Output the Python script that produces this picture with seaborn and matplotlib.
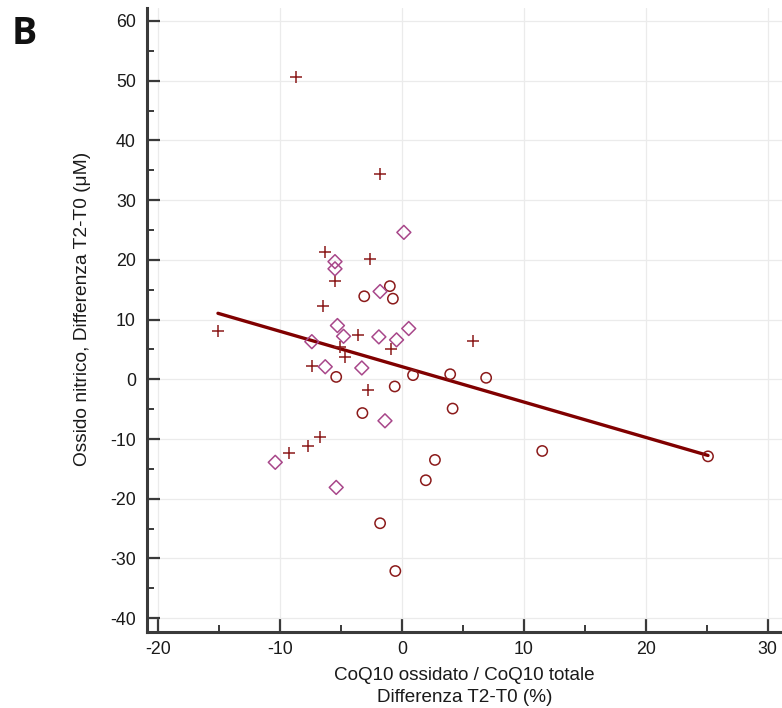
import numpy as np
import pandas as pd
import matplotlib
matplotlib.use("Agg")
import matplotlib.pyplot as plt
from matplotlib.ticker import MultipleLocator
import seaborn as sns

# Change in oxidised / total CoQ10 (%) vs change in nitric oxide (uM), by group
cross_x = [-8.7, -1.8, -6.3, -2.6, -5.5, -6.5, -15.1, -3.6, 5.8, -5.1, -0.9, -4.7,
           -7.4, -2.8, -6.7, -7.7, -9.3]
cross_y = [50.6, 34.4, 21.3, 20.1, 16.5, 12.3, 8.1, 7.5, 6.45, 5.4, 5.0, 3.7,
           2.2, -1.8, -9.7, -11.2, -12.4]

diamond_x = [0.15, -5.5, -5.5, -1.8, -5.3, 0.55, -4.8, -1.9, -0.45, -7.4, -6.3, -3.3,
             -1.4, -10.4, -5.4]
diamond_y = [24.6, 19.7, 18.5, 14.7, 9.0, 8.5, 7.2, 7.1, 6.6, 6.3, 2.1, 1.9,
             -6.95, -13.9, -18.1]

circle_x = [-1.0, -3.1, -0.75, -5.4, 0.9, 3.95, 6.9, -0.6, -3.25, 4.15, 2.7, 1.95,
            11.5, 25.1, -1.8, -0.55]
circle_y = [15.6, 13.9, 13.5, 0.4, 0.7, 0.85, 0.25, -1.2, -5.65, -4.9, -13.5, -16.9,
            -12.0, -12.9, -24.1, -32.1]

# Regression line endpoints (over the observed x range)
fit_x = [-15.1, 25.1]
fit_y = [11.05, -12.75]

x_ticks = [-20, -10, 0, 10, 20, 30]
y_ticks = [-40, -30, -20, -10, 0, 10, 20, 30, 40, 50, 60]

sns.set_theme(style="white")
plt.rcParams["font.family"] = ["Liberation Sans", "DejaVu Sans"]

fig = plt.figure(figsize=(7.82, 7.08), dpi=100)
ax = fig.add_axes([0.188, 0.107, 0.812, 0.882])

dark_red = "#8b1a1a"
pink = "#a8478a"

df_cross = pd.DataFrame({"x": cross_x, "y": cross_y})
df_diam = pd.DataFrame({"x": diamond_x, "y": diamond_y})
df_circ = pd.DataFrame({"x": circle_x, "y": circle_y})
df_fit = pd.DataFrame({"x": fit_x, "y": fit_y})

sns.lineplot(data=df_fit, x="x", y="y", ax=ax, color="#800000", linewidth=2.4, zorder=2)
sns.scatterplot(data=df_cross, x="x", y="y", ax=ax, marker="+", s=70,
                color=dark_red, linewidth=1.1, zorder=3)
sns.scatterplot(data=df_circ, x="x", y="y", ax=ax, marker="o", s=55,
                facecolor="none", edgecolor=dark_red, linewidth=1.1, zorder=3)
sns.scatterplot(data=df_diam, x="x", y="y", ax=ax, marker="D", s=50,
                facecolor="none", edgecolor=pink, linewidth=1.1, zorder=3)

ax.set_xlim(-20.92, 31.17)
ax.set_ylim(-42.35, 62.2)
ax.set_xticks(x_ticks)
ax.set_yticks(y_ticks)
ax.xaxis.set_minor_locator(MultipleLocator(5))
ax.yaxis.set_minor_locator(MultipleLocator(5))
ax.set_xticklabels([str(t) for t in x_ticks])
ax.set_yticklabels([str(t) for t in y_ticks])

ax.grid(True, which="major", color="#ebebeb", linewidth=0.9)
ax.set_axisbelow(True)

for side in ["top", "right"]:
    ax.spines[side].set_visible(False)
for side in ["left", "bottom"]:
    ax.spines[side].set_color("#3a3a3a")
    ax.spines[side].set_linewidth(2.2)

ax.tick_params(which="major", direction="in", length=9.5, width=1.6, color="#3a3a3a",
               labelsize=12.8, labelcolor="#1a1a1a", pad=6.5)
ax.tick_params(axis="y", which="major", pad=8)
ax.tick_params(which="minor", direction="in", length=5, width=1.4, color="#3a3a3a")
ax.tick_params(axis="both", which="both", left=True, bottom=True)

ax.set_xlabel("CoQ10 ossidato / CoQ10 totale\nDifferenza T2-T0 (%)", fontsize=13.6,
              color="#1a1a1a", labelpad=6, linespacing=1.4)
ax.set_ylabel("Ossido nitrico, Differenza T2-T0 (\u03bcM)", fontsize=13.8,
              color="#1a1a1a")
ax.yaxis.set_label_coords(-0.088, 0.518)

fig.text(0.015, 0.952, "B", fontsize=27, fontweight="bold", color="#111111",
         family=["Open Sans", "DejaVu Sans"], va="center", ha="left")

fig.savefig("out.png", dpi=100)
